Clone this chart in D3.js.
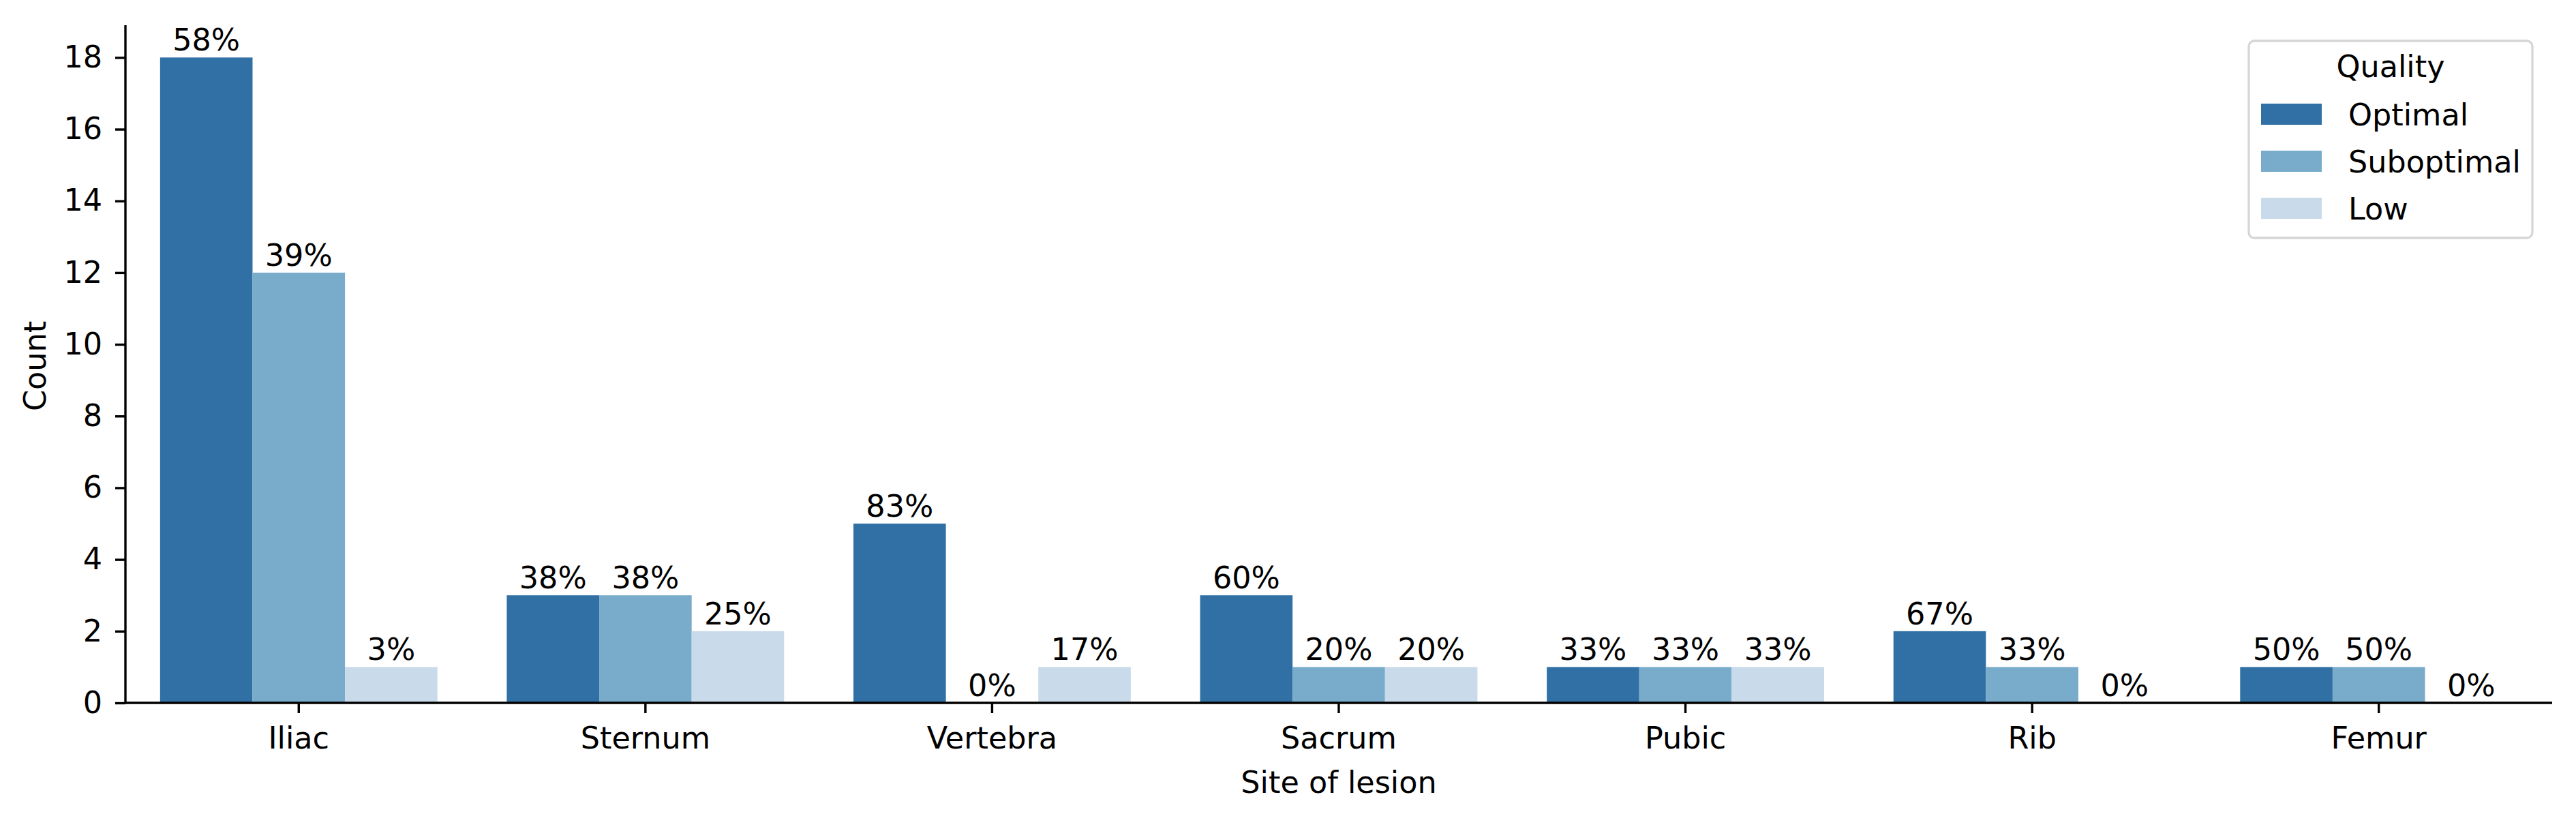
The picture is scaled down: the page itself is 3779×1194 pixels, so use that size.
<!DOCTYPE html>
<html>
<head>
<meta charset="utf-8">
<script src="https://cdn.jsdelivr.net/npm/d3@7"></script>
<style>
  html, body { margin: 0; padding: 0; background: #fff; }
  svg { display: block; }
  text { font-family: "DejaVu Sans", sans-serif; fill: #000; }
</style>
</head>
<body>
<svg id="chart" width="3779" height="1194"></svg>
<script>
// ---- data ----
const categories = ["Iliac", "Sternum", "Vertebra", "Sacrum", "Pubic", "Rib", "Femur"];
const seriesNames = ["Optimal", "Suboptimal", "Low"];
const optimal    = [18, 3, 5, 3, 1, 2, 1];
const suboptimal = [12, 3, 0, 1, 1, 1, 1];
const low        = [1, 2, 1, 1, 1, 0, 0];
const optimalPct    = ["58%", "38%", "83%", "60%", "33%", "67%", "50%"];
const suboptimalPct = ["39%", "38%", "0%", "20%", "33%", "33%", "50%"];
const lowPct        = ["3%", "25%", "17%", "20%", "33%", "0%", "0%"];
const yTicks = [0, 2, 4, 6, 8, 10, 12, 14, 16, 18];
const colors = ["#3070a5", "#79abcb", "#c9daeb"];

const seriesValues = [optimal, suboptimal, low];
const seriesPct = [optimalPct, suboptimalPct, lowPct];

// ---- layout ----
const plotL = 184, plotR = 3744, plotT = 37, plotB = 1031;
const FS = 44.5;
const LW = 3.4;

const svg = d3.select("#chart");

const x = d3.scaleBand().domain(categories).range([plotL, plotR]).padding(0);
const xSub = d3.scaleBand().domain(seriesNames)
  .range([x.bandwidth() * 0.1, x.bandwidth() * 0.9]).padding(0);
const y = d3.scaleLinear().domain([0, 18.9]).range([plotB, plotT]);

// ---- bars ----
const data = [];
categories.forEach((c, i) => {
  seriesNames.forEach((s, j) => {
    data.push({ cat: c, ser: s, j: j, v: seriesValues[j][i], pct: seriesPct[j][i] });
  });
});

svg.append("g").selectAll("rect").data(data).join("rect")
  .attr("x", d => x(d.cat) + xSub(d.ser))
  .attr("y", d => y(d.v))
  .attr("width", xSub.bandwidth())
  .attr("height", d => y(0) - y(d.v))
  .attr("fill", d => colors[d.j]);

// bar labels
svg.append("g").selectAll("text").data(data).join("text")
  .attr("x", d => x(d.cat) + xSub(d.ser) + xSub.bandwidth() / 2)
  .attr("y", d => y(d.v) - 10)
  .attr("text-anchor", "middle")
  .attr("font-size", FS)
  .text(d => d.pct);

// ---- axes ----
const yAxis = svg.append("g")
  .attr("transform", `translate(${plotL},0)`)
  .call(d3.axisLeft(y).tickValues(yTicks).tickSize(15).tickSizeOuter(0).tickPadding(19));
yAxis.select(".domain").attr("stroke", "#000").attr("stroke-width", LW)
  .attr("d", `M0,${plotT}V${plotB}`);
yAxis.selectAll(".tick line").attr("stroke", "#000").attr("stroke-width", LW);
yAxis.selectAll(".tick text").attr("font-size", FS).attr("font-family", "DejaVu Sans").attr("fill", "#000");

const xAxis = svg.append("g")
  .attr("transform", `translate(0,${plotB})`)
  .call(d3.axisBottom(x).tickSize(15).tickSizeOuter(0).tickPadding(15));
xAxis.select(".domain").attr("stroke", "#000").attr("stroke-width", LW)
  .attr("d", `M${plotL},0H${plotR}`);
xAxis.selectAll(".tick line").attr("stroke", "#000").attr("stroke-width", LW);
xAxis.selectAll(".tick text").attr("font-size", FS).attr("font-family", "DejaVu Sans").attr("fill", "#000")
  .attr("y", 67).attr("dy", 0);

// axis labels
svg.append("text")
  .attr("x", (plotL + plotR) / 2).attr("y", 1163)
  .attr("text-anchor", "middle").attr("font-size", FS)
  .text("Site of lesion");

svg.append("text")
  .attr("transform", `translate(67,${(plotT + plotB) / 2 + 3}) rotate(-90)`)
  .attr("text-anchor", "middle").attr("font-size", FS)
  .text("Count");

// ---- legend ----
const lg = svg.append("g");
lg.append("rect")
  .attr("x", 3299).attr("y", 60).attr("width", 416).attr("height", 289)
  .attr("rx", 8).attr("ry", 8)
  .attr("fill", "#fff").attr("fill-opacity", 0.8)
  .attr("stroke", "#d6d6d6").attr("stroke-width", 3.3);
lg.append("text")
  .attr("x", 3507).attr("y", 113)
  .attr("text-anchor", "middle").attr("font-size", FS)
  .text("Quality");
const items = lg.selectAll("g.item").data(seriesNames).join("g")
  .attr("class", "item")
  .attr("transform", (d, i) => `translate(0,${152 + i * 69})`);
items.append("rect")
  .attr("x", 3317).attr("y", 0).attr("width", 89).attr("height", 31)
  .attr("fill", (d, i) => colors[i]);
items.append("text")
  .attr("x", 3445).attr("y", 32)
  .attr("font-size", FS)
  .text(d => d);
</script>
</body>
</html>
